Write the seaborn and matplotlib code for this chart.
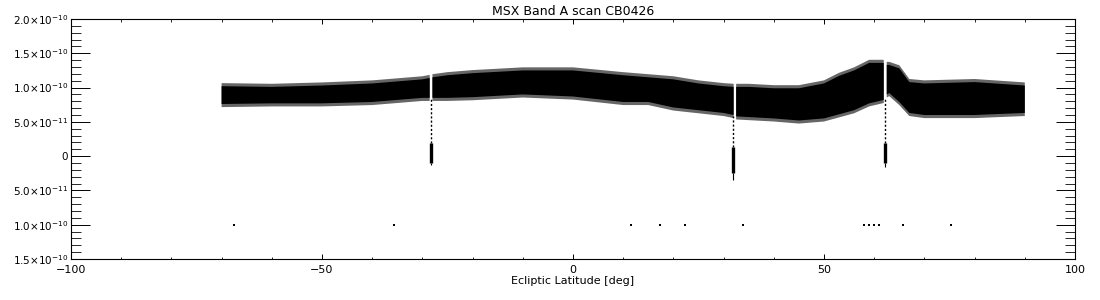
import numpy as np
import pandas as pd
import matplotlib
matplotlib.use("Agg")
import matplotlib.pyplot as plt
import seaborn as sns
from matplotlib.ticker import MultipleLocator, FixedLocator

# ---- data (flux in units of 1e-10) ----
band_lat = [-70, -60, -50, -40, -30, -28.55, -28.3, -28.0, -25, -20, -10, 0, 10, 15,
            20, 25, 30, 32.0, 32.25, 32.5, 35, 40, 45, 50, 53, 56, 59, 61.9, 62.2,
            62.5, 63, 65, 67, 70, 80, 90]
band_upper = [1.02, 1.01, 1.03, 1.06, 1.12, 1.14, np.nan, 1.15, 1.18, 1.21, 1.25, 1.25,
              1.18, 1.15, 1.12, 1.06, 1.02, 1.01, np.nan, 1.01, 1.01, 0.99, 0.99, 1.06,
              1.17, 1.25, 1.36, 1.36, np.nan, 1.33, 1.33, 1.28, 1.08, 1.06, 1.08, 1.03]
band_lower = [0.76, 0.77, 0.77, 0.79, 0.85, 0.85, np.nan, 0.85, 0.85, 0.86, 0.90, 0.87,
              0.79, 0.79, 0.71, 0.67, 0.63, 0.60, np.nan, 0.58, 0.57, 0.55, 0.52, 0.55,
              0.61, 0.67, 0.77, 0.82, np.nan, 0.90, 0.92, 0.79, 0.63, 0.60, 0.60, 0.63]

dip_lat = [-28.3, 31.8, 62.1]
dip_start = [0.85, 0.58, 0.85]
dip_top = [0.19, 0.13, 0.19]
dip_bottom = [-0.10, -0.25, -0.10]
dip_tail = [-0.13, -0.35, -0.16]

out_lat = [-67.5, -35.6, 11.6, 17.3, 22.4, 33.8, 57.9, 59.0, 59.9, 60.9, 65.7, 75.3]
out_flux = [-1.0] * len(out_lat)

yticks = [-1.5, -1.0, -0.5, 0.0, 0.5, 1.0, 1.5, 2.0]
ytick_labels = [r"1.5$\times$10$^{-10}$", r"1.0$\times$10$^{-10}$", r"5.0$\times$10$^{-11}$",
                "0", r"5.0$\times$10$^{-11}$", r"1.0$\times$10$^{-10}$",
                r"1.5$\times$10$^{-10}$", r"2.0$\times$10$^{-10}$"]
xticks = [-100, -50, 0, 50, 100]

title = "MSX Band A scan CB0426"
xlabel = "Ecliptic Latitude [deg]"

# ---- plot ----
sns.set_theme(style="white")
plt.rcParams["font.family"] = ["DejaVu Sans"]
plt.rcParams["mathtext.fontset"] = "dejavusans"

fig = plt.figure(figsize=(11, 3), dpi=100)
ax = fig.add_axes([71 / 1100, 41 / 300, 1004 / 1100, 240 / 300])

lat = np.array(band_lat, dtype=float)
up = np.array(band_upper, dtype=float)
lo = np.array(band_lower, dtype=float)
ax.fill_between(lat, lo - 0.045, up + 0.045, color="0.4", linewidth=0)
ax.fill_between(lat, lo, up, color="black", linewidth=0)

for x, s, t, b, tl in zip(dip_lat, dip_start, dip_top, dip_bottom, dip_tail):
    ax.vlines(x, t, s, color="black", linewidth=1.0, linestyles=(0, (1.5, 1.5)))
    ax.vlines(x, b, t, color="black", linewidth=2.4)
    ax.vlines(x, tl, b, color="black", linewidth=0.8)

df = pd.DataFrame({"lat": out_lat, "flux": out_flux})
sns.scatterplot(data=df, x="lat", y="flux", ax=ax, color="black", s=2.5,
                marker="s", linewidth=0, legend=False)

ax.set_xlim(-100, 100)
ax.set_ylim(-1.5, 2.0)
ax.xaxis.set_major_locator(FixedLocator(xticks))
ax.xaxis.set_minor_locator(MultipleLocator(10))
ax.yaxis.set_major_locator(FixedLocator(yticks))
ax.yaxis.set_minor_locator(MultipleLocator(0.1))
ax.set_yticklabels(ytick_labels)
ax.set_xticklabels([f"{v}".replace("-", "\u2212") for v in xticks])

ax.tick_params(axis="x", which="major", direction="in", length=3.6, width=0.7,
               top=True, bottom=True, labelsize=8, pad=4, colors="black")
ax.tick_params(axis="x", which="minor", direction="in", length=1.8, width=0.7,
               top=True, bottom=True)
ax.tick_params(axis="y", which="major", direction="in", length=14, width=0.7,
               left=True, right=True, labelsize=7.5, pad=2, colors="black")
ax.tick_params(axis="y", which="minor", direction="in", length=7, width=0.7,
               left=True, right=True)

for sp in ax.spines.values():
    sp.set_color("black")
    sp.set_linewidth(0.8)

ax.set_xlabel(xlabel, fontsize=8, labelpad=1, color="black")
ax.set_ylabel("")
ax.set_title(title, fontsize=9, pad=3, color="black")

fig.savefig("out.png", dpi=100, facecolor="white")
